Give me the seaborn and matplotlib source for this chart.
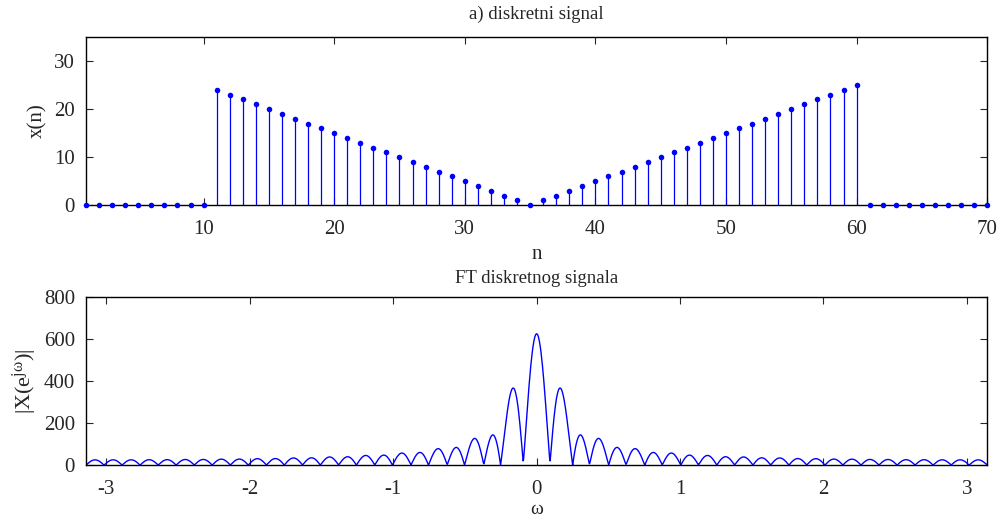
import numpy as np
import matplotlib
matplotlib.use("Agg")
import matplotlib.pyplot as plt
import pandas as pd
import seaborn as sns

# Podaci: diskretni signal x(n), n = 1..70
n = list(range(1, 71))
x_n = ([0] * 10
       + [24, 23, 22, 21, 20, 19, 18, 17, 16, 15, 14, 13, 12, 11, 10,
          9, 8, 7, 6, 5, 4, 3, 2, 1, 0]
       + [1, 2, 3, 4, 5, 6, 7, 8, 9, 10, 11, 12, 13, 14, 15, 16, 17,
          18, 19, 20, 21, 22, 23, 24, 25]
       + [0] * 10)

xticks_top = [10, 20, 30, 40, 50, 60, 70]
yticks_top = [0, 10, 20, 30]
xticks_bot = [-3, -2, -1, 0, 1, 2, 3]
yticks_bot = [0, 200, 400, 600, 800]

# FT diskretnog signala (DTFT iz x(n))
omega = np.linspace(-np.pi, np.pi, 2001)
X = np.abs(np.exp(-1j * np.outer(omega, n)) @ np.array(x_n, dtype=float))
df_ft = pd.DataFrame({"omega": omega, "X": X})

sns.set_style("ticks")
plt.rcParams['font.family'] = ['Liberation Serif', 'DejaVu Serif']
plt.rcParams['mathtext.fontset'] = 'custom'
plt.rcParams['mathtext.rm'] = 'Liberation Serif'
plt.rcParams['mathtext.it'] = 'Liberation Serif'
plt.rcParams['axes.unicode_minus'] = False
plt.rcParams['xtick.direction'] = 'in'
plt.rcParams['ytick.direction'] = 'in'

fig = plt.figure(figsize=(9.98, 5.22), dpi=100)
ax1 = fig.add_axes([0.0862, 0.607, 0.903, 0.322])
ax2 = fig.add_axes([0.0862, 0.109, 0.903, 0.322])

# Gornji graf: stem
ax1.vlines(n, 0, x_n, color="blue", linewidth=0.9)
sns.scatterplot(x=n, y=x_n, ax=ax1, color="blue", s=16, edgecolor="blue",
                linewidth=0, clip_on=False, zorder=3)
ax1.set_xlim(1, 70)
ax1.set_ylim(0, 35)
ax1.set_xticks(xticks_top)
ax1.set_yticks(yticks_top)
ax1.set_title("a) diskretni signal", fontsize=13.5, pad=13)
ax1.set_xlabel("n", fontsize=15, labelpad=4)
ax1.set_ylabel("x(n)", fontsize=15, va="center")
ax1.yaxis.set_label_coords(-0.054, 0.5)

# Donji graf: |X(e^jw)|
sns.lineplot(data=df_ft, x="omega", y="X", ax=ax2, color="blue", linewidth=1)
ax2.set_xlim(-np.pi, np.pi)
ax2.set_ylim(0, 800)
ax2.set_xticks(xticks_bot)
ax2.set_yticks(yticks_bot)
ax2.set_title("FT diskretnog signala", fontsize=13.5, pad=10)
ax2.set_xlabel("ω", fontsize=14, labelpad=1)
ax2.set_ylabel("|X(e$^{jω}$)|", fontsize=16, va="center")
ax2.yaxis.set_label_coords(-0.068, 0.5)

for ax in (ax1, ax2):
    ax.tick_params(axis="both", which="both", top=True, right=True,
                   labelsize=15, length=5, width=0.8)
    ax.tick_params(axis="x", pad=11)
    ax.tick_params(axis="y", pad=8)
    for sp in ax.spines.values():
        sp.set_visible(True)
        sp.set_linewidth(1)
        sp.set_color("black")

fig.savefig("out.png", dpi=100)
